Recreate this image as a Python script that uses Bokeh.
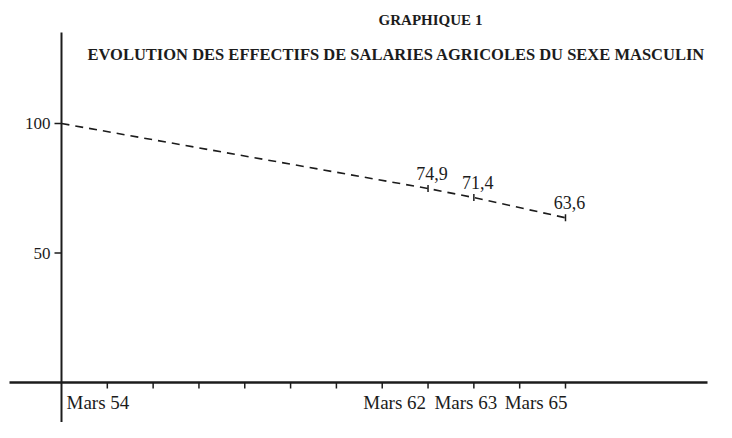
import math
from bokeh.plotting import figure
from bokeh.models import ColumnDataSource
from bokeh.core.properties import value
from bokeh.embed import file_html
from bokeh.resources import INLINE

# ---- data ----
years = [1954, 1962, 1963, 1965]
values = [100.0, 74.9, 71.4, 63.6]
value_labels = ["", "74,9", "71,4", "63,6"]
tick_years = list(range(1955, 1966))
label_years = [1954, 1962, 1963, 1965]
x_labels = ["Mars 54", "Mars 62", "Mars 63", "Mars 65"]
y_ticks = [50, 100]
y_tick_labels = ["50", "100"]
title_top = "GRAPHIQUE 1"
title_main = "EVOLUTION DES EFFECTIFS DE SALARIES AGRICOLES DU SEXE MASCULIN"

# ---- layout ----
W, H = 716, 422
X0, X1 = 1952.6687, 1968.2958
Y0, Y1 = -15.44, 147.49
PXX = W / (X1 - X0)
PXY = H / (Y1 - Y0)

def cx(px):
    return X0 + px / PXX

def cy(py):
    return Y1 - py / PXY

INK = "#1c1c1c"
SERIF = "Liberation Serif"

p = figure(width=W, height=H, x_range=(X0, X1), y_range=(Y0, Y1),
           output_backend="svg", toolbar_location=None,
           x_axis_type=None, y_axis_type=None, min_border=0)
p.outline_line_color = None
p.xgrid.visible = False
p.ygrid.visible = False
p.background_fill_color = "white"
p.border_fill_color = "white"

# axes lines
p.segment(x0=[cx(9)], y0=[0], x1=[cx(707)], y1=[0], line_color=INK, line_width=2.5)
p.segment(x0=[years[0]], y0=[cy(32)], x1=[years[0]], y1=[Y0], line_color=INK, line_width=2)

# x ticks (downward)
tl = 6 / PXY
p.segment(x0=tick_years, y0=[0] * len(tick_years), x1=tick_years,
          y1=[-tl] * len(tick_years), line_color=INK, line_width=1.5)

# y ticks (leftward)
yl = 7 / PXX
p.segment(x0=[years[0] - yl] * len(y_ticks), y0=y_ticks, x1=[years[0]] * len(y_ticks),
          y1=y_ticks, line_color=INK, line_width=1.5)
p.text(x=[years[0]] * len(y_ticks), y=y_ticks, text=y_tick_labels,
       x_offset=-11, text_align="right", text_baseline="middle",
       text_font=value(SERIF), text_font_size="17px", text_color=INK)

# x labels
xsrc = ColumnDataSource(dict(
    x=label_years, y=[0] * len(label_years), t=x_labels,
    align=["left", "right", "center", "right"],
    xo=[5, -2, -8, 2]))
p.text(x="x", y="y", text="t", source=xsrc, x_offset="xo", y_offset=9,
       text_align="align", text_baseline="top",
       text_font=value(SERIF), text_font_size="19px", text_color=INK)

# data line
p.line(years, values, line_color=INK, line_width=1.6, line_dash="8 6")
p.scatter(years[1:], values[1:], marker="dash", angle=math.pi / 2, size=7,
          line_color=INK, line_width=1.5)

# value labels
p.text(x=years[1:], y=values[1:], text=value_labels[1:], x_offset=4, y_offset=-9,
       text_align="center", text_baseline="bottom",
       text_font=value(SERIF), text_font_size="18px", text_color=INK)

# titles
p.text(x=[cx(430)], y=[cy(19)], text=[title_top], text_align="center",
       text_baseline="middle", text_font=value(SERIF), text_font_style="bold",
       text_font_size="15px", text_color=INK)
p.text(x=[cx(87)], y=[cy(54)], text=[title_main], text_align="left",
       text_baseline="middle", text_font=value(SERIF), text_font_style="bold",
       text_font_size="16.5px", text_color=INK)

open("out.html", "w").write(file_html(p, INLINE))
